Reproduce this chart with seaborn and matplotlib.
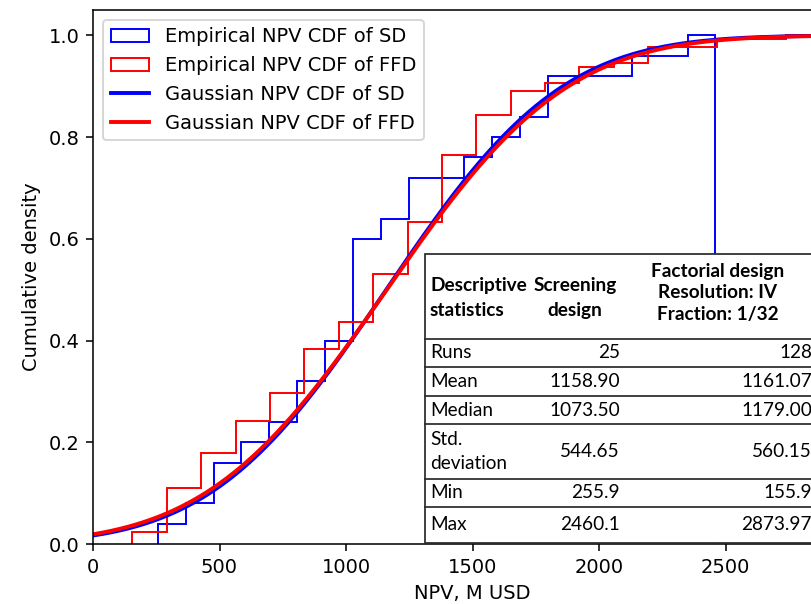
import math
import numpy as np
import pandas as pd
import seaborn as sns
import matplotlib
matplotlib.use("Agg")
import matplotlib.pyplot as plt
from matplotlib.patches import Rectangle
from matplotlib.lines import Line2D

# ---------------- data ----------------
sd_min, sd_max = 255.9, 2460.1
ffd_min, ffd_max = 155.9, 2873.97
n_bins = 20
sd_counts = [1, 1, 2, 1, 1, 2, 2, 5, 1, 2, 0, 1, 1, 1, 2, 0, 0, 1, 0, 1]
ffd_counts = [3, 11, 9, 8, 7, 11, 7, 12, 13, 17, 10, 6, 2, 4, 1, 4, 0, 2, 0, 1]
sd_mean, sd_std = 1158.90, 544.65
ffd_mean, ffd_std = 1161.07, 560.15

labels = ["Empirical NPV CDF of SD", "Empirical NPV CDF of FFD",
          "Gaussian NPV CDF of SD", "Gaussian NPV CDF of FFD"]

table_header = ["Descriptive\nstatistics", "Screening\ndesign",
                "Factorial design\nResolution: IV\nFraction: 1/32"]
table_rows = ["Runs", "Mean", "Median", "Std.\ndeviation", "Min", "Max"]
sd_stats = ["25", "1158.90", "1073.50", "544.65", "255.9", "2460.1"]
ffd_stats = ["128", "1161.07", "1179.00", "560.15", "155.9", "2873.97"]

# ---------------- figure ----------------
W, H, DPI = 811, 604, 140
fig = plt.figure(figsize=(W / DPI, H / DPI), dpi=DPI)

def fx(px):
    return px / W

def fy(py):
    return 1 - py / H

x_max = 3000
px_per_unit = 0.253
ax_left, ax_bottom, ax_top = 93, 544, 10
ax = fig.add_axes([fx(ax_left), fy(ax_bottom),
                   x_max * px_per_unit / W, (ax_bottom - ax_top) / H])

def hist_step(vmin, vmax, counts, color, label):
    edges = np.linspace(vmin, vmax, n_bins + 1)
    centers = (edges[:-1] + edges[1:]) / 2
    counts = np.asarray(counts, float)
    _, _, patches = ax.hist(centers, bins=edges, weights=counts / counts.sum(),
                            cumulative=True, histtype="step", color=color,
                            lw=1.0, label=label)
    return patches[0]

h1 = hist_step(sd_min, sd_max, sd_counts, "blue", labels[0])
h2 = hist_step(ffd_min, ffd_max, ffd_counts, "red", labels[1])

xg = np.linspace(0, x_max, 800)
def gauss_cdf(x, mu, s):
    return np.array([0.5 * (1 + math.erf((v - mu) / (s * math.sqrt(2)))) for v in x])

df = pd.DataFrame({
    "x": np.concatenate([xg, xg]),
    "y": np.concatenate([gauss_cdf(xg, sd_mean, sd_std), gauss_cdf(xg, ffd_mean, ffd_std)]),
    "series": [labels[2]] * len(xg) + [labels[3]] * len(xg),
})
sns.lineplot(data=df, x="x", y="y", hue="series",
             palette={labels[2]: "blue", labels[3]: "red"},
             lw=2.0, ax=ax, legend=False)

l3 = Line2D([], [], color="blue", lw=2.0)
l4 = Line2D([], [], color="red", lw=2.0)
ax.legend([h1, h2, l3, l4], labels, loc="upper left")

ax.set_xlim(0, x_max)
ax.set_ylim(0, 1.05)
ax.set_xticks([0, 500, 1000, 1500, 2000, 2500])
ax.set_yticks([0.0, 0.2, 0.4, 0.6, 0.8, 1.0])
ax.set_xlabel("NPV, M USD")
ax.set_ylabel("Cumulative density")

# ---------------- table (figure overlay) ----------------
t_left, t_right = 425, 840
row_lines = [254, 339, 367, 396, 424, 479, 507, 543]
edge = "#2b2b2b"
fig.add_artist(Rectangle((fx(t_left), fy(row_lines[-1])), fx(t_right) - fx(t_left),
                         (row_lines[-1] - row_lines[0]) / H,
                         transform=fig.transFigure, facecolor="white",
                         edgecolor=edge, lw=0.9, zorder=5))
for yl in row_lines[1:-1]:
    fig.add_artist(Line2D([fx(t_left), fx(t_right)], [fy(yl), fy(yl)],
                          transform=fig.transFigure, color=edge, lw=0.9, zorder=6))

tfont = dict(family="Lato", fontsize=9.8, zorder=7)
fig.text(fx(430), fy(298), table_header[0], ha="left", va="center",
         fontweight="bold", linespacing=1.6, **tfont)
fig.text(fx(575), fy(298), table_header[1], ha="center", va="center",
         fontweight="bold", linespacing=1.6, **tfont)
fig.text(fx(718), fy(293), table_header[2], ha="center", va="center",
         fontweight="bold", linespacing=1.3, **tfont)

for i, (lab, v1, v2) in enumerate(zip(table_rows, sd_stats, ffd_stats)):
    yc = (row_lines[i + 1] + row_lines[i + 2]) / 2
    fig.text(fx(430), fy(yc), lab, ha="left", va="center", linespacing=1.5, **tfont)
    fig.text(fx(620), fy(yc), v1, ha="right", va="center", **tfont)
    fig.text(fx(812), fy(yc), v2, ha="right", va="center", **tfont)

fig.savefig("out.png", dpi=DPI)
